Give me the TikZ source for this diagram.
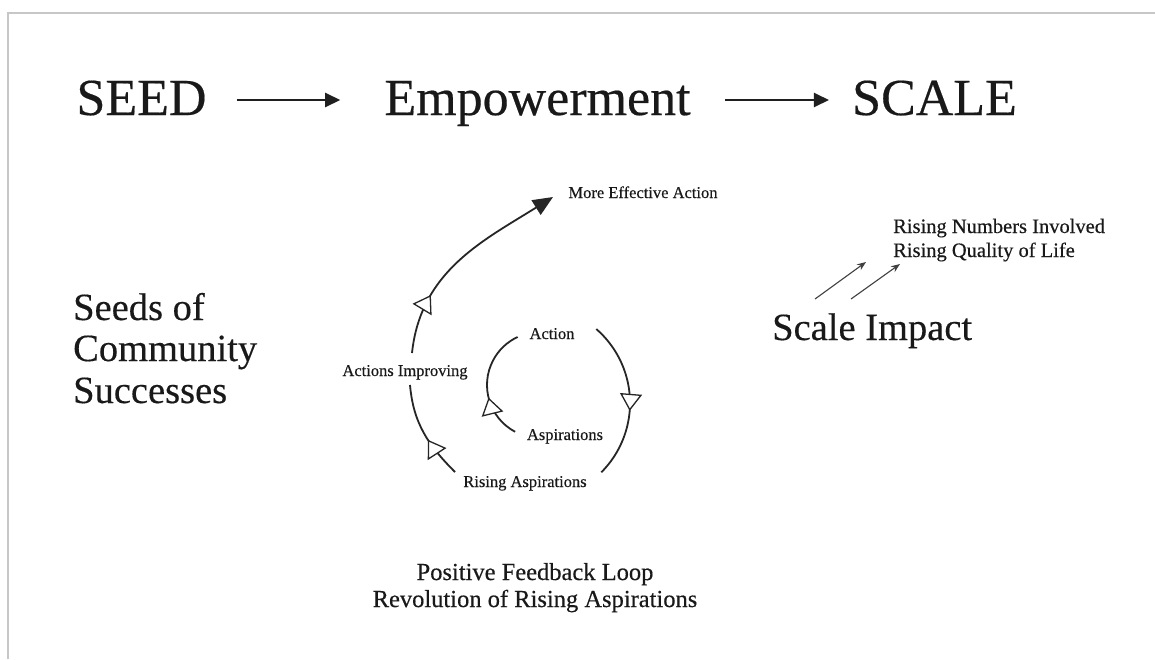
\documentclass[tikz,border=0pt]{standalone}
\usepackage{fontspec}
\setmainfont{Liberation Serif}[FakeBold=0.35]
\usetikzlibrary{arrows.meta,decorations.markings}
\begin{document}
\begin{tikzpicture}[x=1pt,y=1pt,
  ink/.style={text=black!90},
  bigtxt/.style={ink,font=\fontsize{52}{60}\selectfont,inner sep=0pt,text height=36pt,text depth=6pt},
  seedTxt/.style={ink,font=\fontsize{38.5}{44}\selectfont,inner sep=0pt,anchor=base west},
  lbl/.style={ink,font=\fontsize{16.5}{19}\selectfont,inner sep=0pt,anchor=base},
  riseTxt/.style={ink,font=\fontsize{20.5}{24}\selectfont,inner sep=0pt,anchor=base west},
  footTxt/.style={ink,font=\fontsize{24.5}{28}\selectfont,inner sep=0pt,anchor=base},
  toparrow/.style={draw=black!88,line width=2.2pt,-{Triangle[length=15pt,width=14pt]}},
  loopline/.style={draw=black!85,line width=1.8pt},
  openhead/.style={postaction={decorate},decoration={markings,mark=at position #1 with {\arrow{Triangle[open,fill=white,length=17pt,width=22pt,line width=1.3pt]}}}},
  impact/.style={draw=black!75,line width=1.1pt,-{Stealth[length=9pt,width=7pt]}}
]
\path[fill=white,use as bounding box] (0,0) rectangle (1155,-659);
\draw[black!22,line width=1.8pt] (8,-659) -- (8,-13) -- (1155,-13);

% top row
\node[bigtxt] (seed) at (141.5,-100) {SEED};
\node[bigtxt] (emp) at (537.5,-100) {Empowerment};
\node[bigtxt] (scale) at (934.5,-100) {SCALE};
\draw[toparrow,shorten <=30pt,shorten >=44pt] (seed) -- (emp);
\draw[toparrow,shorten <=34pt,shorten >=23pt] (emp) -- (scale);

% left text
\node[seedTxt] (s1) at (73,-320) {Seeds of};
\node[seedTxt] (s2) at (73,-361) {Community};
\node[seedTxt] (s3) at (73,-403) {Successes};

% right text
\node[seedTxt] (si) at (772,-340) {Scale Impact};
\node[riseTxt] (r1) at (893,-233) {Rising Numbers Involved};
\node[riseTxt] (r2) at (893,-257) {Rising Quality of Life};
\coordinate (i1s) at (815,-299);
\coordinate (i1e) at (866,-262);
\coordinate (i2s) at (851,-299);
\coordinate (i2e) at (900,-264);
\draw[impact] (i1s) -- (i1e);
\draw[impact] (i2s) -- (i2e);

% spiral labels
\node[lbl] (mea) at (643,-198) {More Effective Action};
\node[lbl] (ai) at (405,-376) {Actions Improving};
\node[lbl] (act) at (552,-339) {Action};
\node[lbl] (asp) at (565,-440) {Aspirations};
\node[lbl] (ra) at (525,-487) {Rising Aspirations};

% spiral
\coordinate (inC) at (540,-385);
\draw[loopline,openhead=0.38] ([shift={(242:53)}]inC) arc[start angle=242,end angle=115,radius=53];
\coordinate (outC) at (532,-403);
\draw[loopline,openhead=0.57] ([shift={(49:98)}]outC) arc[start angle=49,end angle=-45,radius=98];
\coordinate (a1) at (455,-472);
\coordinate (a2) at (410,-385);
\coordinate (b1) at (412,-353);
\coordinate (b2) at (553,-197);
\draw[loopline,openhead=0.42] (a1) to[out=135,in=-85] (a2);
\draw[loopline,openhead=0.28,-{Triangle[length=20pt,width=17pt]}] (b1) to[out=84,in=212] (b2);

% footer
\node[footTxt] (f1) at (535,-580) {Positive Feedback Loop};
\node[footTxt] (f2) at (535,-607) {Revolution of Rising Aspirations};
\end{tikzpicture}
\end{document}
